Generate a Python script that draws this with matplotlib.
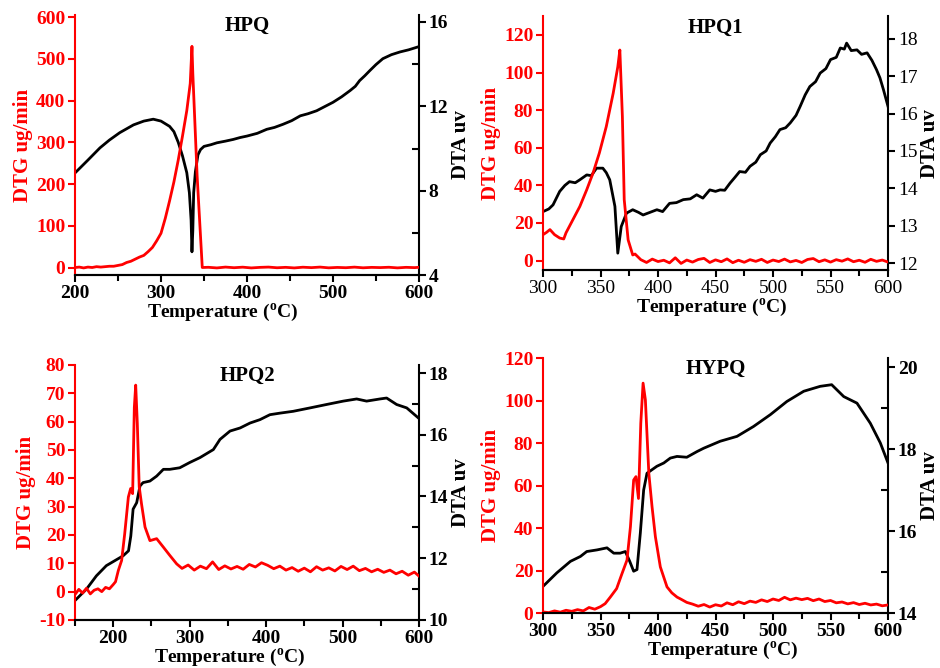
import matplotlib
matplotlib.use('Agg')
import matplotlib.pyplot as plt
from matplotlib.ticker import MultipleLocator

plt.rcParams['font.family'] = 'serif'
plt.rcParams['font.serif'] = ['Liberation Serif', 'DejaVu Serif']
plt.rcParams['font.weight'] = 'bold'
plt.rcParams['mathtext.fontset'] = 'custom'
plt.rcParams['mathtext.rm'] = 'Liberation Serif:bold'
plt.rcParams['mathtext.bf'] = 'Liberation Serif:bold'
plt.rcParams['axes.unicode_minus'] = False

RED = '#ff0000'

# ---- HPQ ----
hpq_dtg_t = [200, 205, 210, 215, 220, 225, 230, 235, 240, 245, 250, 255, 260, 265,
             270, 275, 280, 285, 290, 295, 300, 305, 310, 315, 320, 325, 330, 334,
             336, 337, 342, 348, 355, 365, 375, 385, 395, 405, 415, 425, 435, 445,
             455, 465, 475, 485, 495, 505, 515, 525, 535, 545, 555, 565, 575, 585,
             595, 600]
hpq_dtg = [0, 1, -1, 1, 0, 2, 1, 2, 3, 3, 5, 7, 12, 15, 20, 25, 29, 38, 48, 64, 82,
           118, 160, 205, 257, 315, 376, 441, 530, 465, 220, 0, 0.5, -1, 1, -0.5, 0.8,
           -1, 0.3, 1, -0.6, 0.4, -1, 0.7, -0.3, 1, -0.8, 0.2, -0.5, 0.9, -0.7, 0.3,
           -0.2, 0.6, -0.9, 0.4, -0.3, 0.5]
hpq_dta_t = [200, 215, 229, 240, 252, 268, 280, 291, 300, 310, 315, 320, 325, 330,
             333, 335, 336, 337, 338, 340, 343, 346, 350, 358, 365, 375, 384, 392,
             400, 412, 423, 432, 442, 452, 462, 471, 481, 490, 500, 510, 520, 526,
             531, 537, 543, 550, 558, 568, 578, 588, 599]
hpq_dta = [8.84, 9.45, 10.03, 10.4, 10.75, 11.12, 11.3, 11.39, 11.3, 11.05, 10.8,
           10.3, 9.65, 8.85, 7.9, 6.6, 5.1, 6.1, 7.9, 8.9, 9.7, 9.95, 10.1, 10.18,
           10.27, 10.35, 10.43, 10.52, 10.59, 10.72, 10.91, 11.0, 11.15, 11.32, 11.55,
           11.65, 11.79, 11.98, 12.19, 12.45, 12.75, 12.95, 13.22, 13.45, 13.7, 13.98,
           14.26, 14.45, 14.58, 14.68, 14.82]

# ---- HPQ1 ----
hpq1_dtg_t = [300, 303, 306, 310, 314.5, 318, 320, 326, 332, 338, 343.5, 349, 355,
              361, 365, 366.8, 369, 370.6, 374, 378, 380, 385, 390, 395, 400, 405,
              410, 415, 420, 425, 430, 435, 440, 445, 450, 455, 460, 465, 470, 475,
              480, 485, 490, 495, 500, 505, 510, 515, 520, 525, 530, 535, 540, 545,
              550, 555, 560, 565, 570, 575, 580, 585, 590, 595, 600]
hpq1_dtg = [13.8, 15.0, 16.5, 13.8, 12, 11.5, 14.8, 21.8, 28.8, 37.7, 46.6, 57.3,
            71.3, 89, 103, 112, 76.6, 32.4, 11, 3, 3.5, 0.5, -1, 0.8, -0.5, 0.2, -1.2,
            1.5, -1.5, 0.3, -0.8, 0.6, 1.2, -1, 0.4, -0.6, 0.9, -1.1, 0.2, -0.9, 0.5,
            -0.4, 0.7, -1.0, 0.3, -0.5, 0.8, -0.7, 0.1, -1.0, 0.6, 1.1, -0.6, 0.4, -0.8,
            0.5, -0.3, 0.9, -0.6, 0.2, -0.9, 0.7, -0.4, 0.3, -0.8]
hpq1_dta_t = [300, 305, 308.7, 314.5, 319, 323, 328, 332, 338, 342, 346.5, 352, 355,
              358, 362.5, 365, 368, 372.6, 378, 383, 387, 393, 399, 404, 410, 416,
              422, 428, 433.6, 439, 445, 450, 454, 458, 462.6, 467, 471, 476, 480,
              485, 489, 494, 497.5, 502, 506, 511, 515, 520, 523.6, 528, 532, 537,
              541, 546, 550, 555, 558.5, 562, 564, 568, 573, 577, 581.8, 586, 590,
              593, 596, 600]
hpq1_dta = [13.38, 13.45, 13.56, 13.92, 14.08, 14.18, 14.15, 14.23, 14.36, 14.34,
            14.54, 14.54, 14.42, 14.23, 13.52, 12.27, 12.98, 13.34, 13.43, 13.36,
            13.29, 13.36, 13.43, 13.38, 13.6, 13.62, 13.7, 13.72, 13.83, 13.74, 13.96,
            13.92, 13.96, 13.95, 14.14, 14.3, 14.45, 14.43, 14.59, 14.7, 14.9, 15.0,
            15.21, 15.38, 15.57, 15.62, 15.75, 15.95, 16.19, 16.5, 16.72, 16.85,
            17.08, 17.2, 17.44, 17.5, 17.75, 17.72, 17.88, 17.68, 17.7, 17.58, 17.62,
            17.42, 17.17, 16.95, 16.64, 16.19]

# ---- HPQ2 ----
hpq2_dtg_t = [150, 155, 160, 165, 170, 175, 180, 185, 190, 195, 200, 203, 206.7, 211,
              215, 219.8, 222.8, 225.4, 227.6, 229.4, 231.5, 234, 237, 241.6, 248,
              256.8, 265.6, 274, 283, 290, 298, 306, 314, 322, 330, 338, 346, 354,
              362, 370, 378, 386, 394, 402, 410, 418, 426, 434, 442, 450, 458, 466,
              474, 482, 490, 498, 506, 514, 522, 530, 538, 546, 554, 562, 570, 578,
              586, 594, 600]
hpq2_dtg = [-1, 0.8, -0.5, 1.2, -0.8, 0.5, 1.0, 0.0, 1.5, 1.0, 2.5, 3.5, 7.5, 11,
            20.4, 33.4, 36.4, 34.6, 65, 72.9, 59.4, 37, 31, 22.8, 18, 18.7, 15.7,
            12.8, 9.8, 8.2, 9.4, 7.6, 9.0, 8.1, 10.5, 7.8, 9.1, 8.0, 8.9, 7.9, 9.6,
            8.7, 10.2, 9.3, 8.1, 9.0, 7.6, 8.5, 7.2, 8.3, 7.0, 8.8, 7.6, 8.4, 7.3, 8.9,
            7.8, 9.0, 7.4, 8.2, 7.0, 7.9, 6.8, 7.6, 6.3, 7.2, 5.8, 6.9, 5.5]
hpq2_dta_t = [150, 165, 178, 191, 202, 213, 220, 223, 226, 230.7, 235, 239, 248,
              256.8, 265.6, 274, 287, 300, 313.5, 331, 339.7, 352.8, 366, 379, 392,
              405, 418, 435.5, 457.5, 479, 501, 518.5, 531.5, 549, 557.7, 570.8, 584,
              599]
hpq2_dta = [10.63, 11.0, 11.43, 11.76, 11.92, 12.08, 12.24, 12.72, 13.59, 13.8,
            14.34, 14.45, 14.5, 14.66, 14.88, 14.88, 14.93, 15.1, 15.26, 15.52, 15.85,
            16.12, 16.22, 16.38, 16.49, 16.65, 16.7, 16.76, 16.87, 16.98, 17.09, 17.16,
            17.09, 17.16, 17.19, 16.98, 16.87, 16.55]

# ---- HYPQ ----
hypq_dtg_t = [300, 305, 310, 315, 320, 325, 330, 335, 340, 345, 350, 354, 358.5, 364,
              368.7, 373, 376, 378.8, 380.8, 383, 385, 387, 389, 392, 394.8, 397.7,
              402, 407.8, 412, 416.5, 420, 425, 430, 435, 440, 445, 450, 455, 460,
              465, 470, 475, 480, 485, 490, 495, 500, 505, 510, 515, 520, 525, 530,
              535, 540, 545, 550, 555, 560, 565, 570, 575, 580, 585, 590, 595, 600]
hypq_dtg = [0.5, 0.2, 1.0, 0.4, 1.3, 0.8, 1.6, 1.0, 2.6, 1.8, 3.0, 4.4, 7.5, 11.5,
            18.6, 24.9, 40.6, 62.6, 64.2, 53.9, 89.3, 108.2, 100.3, 65.7, 50, 35.9,
            21.7, 12.3, 9.5, 7.5, 6.5, 5.0, 4.2, 3.2, 4.0, 2.8, 3.9, 3.3, 4.8, 3.9, 5.3,
            4.4, 5.6, 5.0, 6.2, 5.4, 6.6, 5.9, 7.4, 6.2, 7.0, 6.3, 6.9, 5.8, 6.6, 5.4,
            5.9, 4.8, 5.2, 4.3, 4.9, 4.0, 4.6, 3.8, 4.2, 3.4, 3.8]
hypq_dta_t = [300, 312, 323.8, 332.5, 338, 347, 355.6, 361.5, 367, 371.6, 375.4,
              378.8, 381.7, 384.6, 387.5, 390.4, 399, 405, 410.7, 416.5, 425, 434,
              439.7, 454, 468.7, 483, 497.7, 512, 526.7, 541, 551, 561.5, 573, 584.6,
              593.3, 600]
hypq_dta = [14.65, 14.98, 15.26, 15.38, 15.5, 15.54, 15.59, 15.46, 15.46, 15.5,
            15.26, 15.02, 15.06, 15.95, 17.0, 17.41, 17.58, 17.66, 17.78, 17.82, 17.8,
            17.94, 18.02, 18.19, 18.31, 18.55, 18.84, 19.16, 19.41, 19.53, 19.57, 19.28,
            19.12, 18.63, 18.15, 17.66]

panels = [
    dict(title='HPQ', rect=[0.0798, 0.5883, 0.3659, 0.3892],
         dtg=(hpq_dtg_t, hpq_dtg), dta=(hpq_dta_t, hpq_dta),
         xlim=(200, 600), xmaj=100, xmin=50,
         ylim=(-18, 605), ymaj=100,
         y2lim=(4, 16.33), y2maj=4, y2min=2, bold_ticks=True, xlab_x=0.43),
    dict(title='HPQ1', rect=[0.5777, 0.5958, 0.367, 0.380],
         dtg=(hpq1_dtg_t, hpq1_dtg), dta=(hpq1_dta_t, hpq1_dta),
         xlim=(300, 600), xmaj=50, xmin=25,
         ylim=(-5, 130), ymaj=20,
         y2lim=(11.82, 18.6), y2maj=1, y2min=None, bold_ticks=False, xlab_x=0.49),
    dict(title='HPQ2', rect=[0.0798, 0.0719, 0.3659, 0.3817],
         dtg=(hpq2_dtg_t, hpq2_dtg), dta=(hpq2_dta_t, hpq2_dta),
         xlim=(150, 600), xmaj=100, xmin=50,
         ylim=(-10, 80), ymaj=10,
         y2lim=(10, 18.26), y2maj=2, y2min=1, bold_ticks=True, xlab_x=0.45),
    dict(title='HYPQ', rect=[0.5777, 0.0823, 0.367, 0.3817],
         dtg=(hypq_dtg_t, hypq_dtg), dta=(hypq_dta_t, hypq_dta),
         xlim=(300, 600), xmaj=50, xmin=25,
         ylim=(0, 120), ymaj=20,
         y2lim=(14, 20.22), y2maj=2, y2min=1, bold_ticks=True, xlab_x=0.52),
]

fig = plt.figure(figsize=(9.4, 6.68), dpi=100)

for p in panels:
    ax = fig.add_axes(p['rect'])
    ax2 = ax.twinx()
    ax.set_zorder(ax2.get_zorder() + 1)
    ax.patch.set_visible(False)

    ax2.plot(p['dta'][0], p['dta'][1], color='black', lw=2)
    ax.plot(p['dtg'][0], p['dtg'][1], color=RED, lw=2)

    ax.set_xlim(*p['xlim'])
    ax.set_ylim(*p['ylim'])
    ax2.set_ylim(*p['y2lim'])

    ax.xaxis.set_major_locator(MultipleLocator(p['xmaj']))
    ax.xaxis.set_minor_locator(MultipleLocator(p['xmin']))
    ax.yaxis.set_major_locator(MultipleLocator(p['ymaj']))
    ax2.yaxis.set_major_locator(MultipleLocator(p['y2maj']))
    if p['y2min']:
        ax2.yaxis.set_minor_locator(MultipleLocator(p['y2min']))

    for a in (ax, ax2):
        a.spines['top'].set_visible(False)
        for s in a.spines.values():
            s.set_linewidth(1.5)
    ax.spines['left'].set_color(RED)
    ax.spines['right'].set_visible(False)
    ax2.spines['left'].set_visible(False)

    ax.tick_params(axis='x', which='major', direction='out', length=5, width=1.5,
                   labelsize=14, pad=2)
    ax.tick_params(axis='x', which='minor', direction='out', length=4, width=1.5)
    ax.tick_params(axis='y', which='major', direction='out', length=5, width=1.5,
                   colors=RED, labelsize=14, pad=2)
    ax2.tick_params(axis='y', which='major', direction='out', length=5, width=1.5,
                    labelsize=14, pad=2)
    ax2.tick_params(axis='y', which='minor', direction='in', length=5, width=1.5)

    w = 'bold' if p['bold_ticks'] else 'normal'
    for lab in ax.get_xticklabels() + ax2.get_yticklabels():
        lab.set_fontweight(w)

    ax.set_xlabel(r'Temperature ($^{\mathrm{o}}$C)', fontsize=14, fontweight='bold',
                  labelpad=0)
    ax.xaxis.label.set_x(p['xlab_x'])
    ax.set_ylabel('DTG ug/min', fontsize=15, fontweight='bold', color=RED, labelpad=2)
    ax2.set_ylabel('DTA uv', fontsize=15, fontweight='bold', labelpad=2)
    ax.text(0.5, 0.995, p['title'], transform=ax.transAxes, ha='center', va='top',
            fontsize=15, fontweight='bold')

fig.savefig('out.png', dpi=100)
